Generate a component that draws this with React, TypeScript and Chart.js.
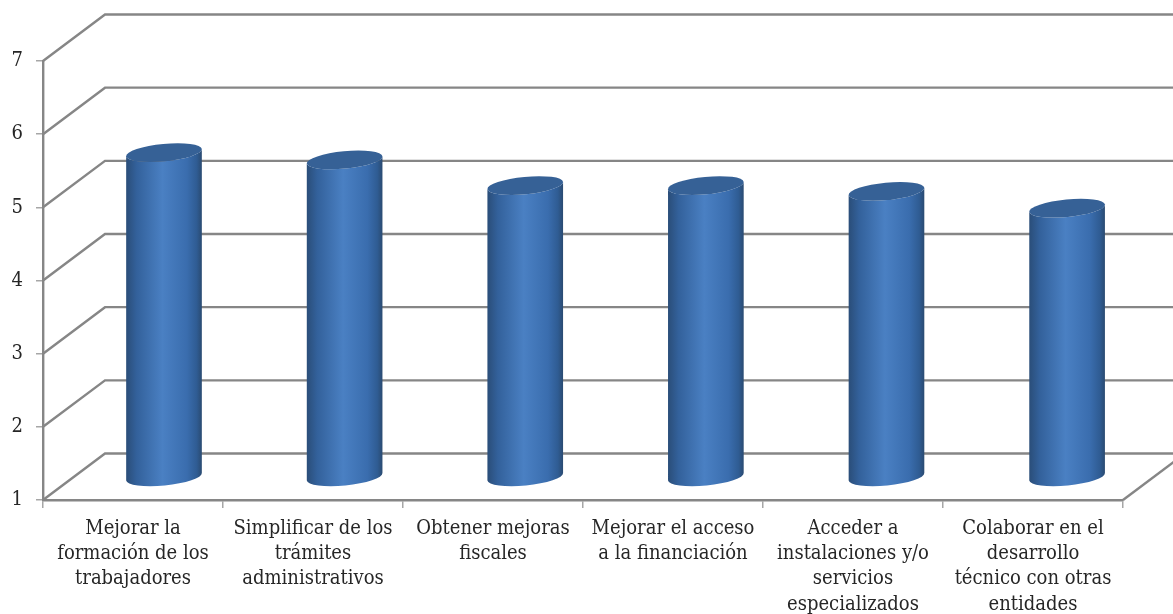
import React, { useEffect, useRef } from "react";
import { Chart, registerables } from "chart.js";

Chart.register(...registerables);

const categories: string[][] = [
  ["Mejorar la", "formación de los", "trabajadores"],
  ["Simplificar de los", "trámites", "administrativos"],
  ["Obtener mejoras", "fiscales"],
  ["Mejorar el acceso", "a la financiación"],
  ["Acceder a", "instalaciones y/o", "servicios", "especializados"],
  ["Colaborar en el", "desarrollo", "técnico con otras", "entidades"],
];
const values: number[] = [5.43, 5.33, 4.98, 4.98, 4.9, 4.67];
const yMin = 1;
const yMax = 7;

const FONT = '"DejaVu Serif Condensed", "DejaVu Serif", serif';
const GRID = "#868686";
const DEPTH_X = 62;
const DEPTH_Y = 46.5;
const TILT = (-5.5 * Math.PI) / 180;
const RY = 8.7;
const PERSPECTIVE = 0.62;

const walls = {
  id: "walls",
  beforeDatasetsDraw(chart: any) {
    const { ctx, scales, width } = chart;
    const y = scales.y;
    const area = chart.chartArea;
    ctx.save();
    ctx.strokeStyle = GRID;
    ctx.lineWidth = 2.4;
    for (const t of y.ticks) {
      const py = y.getPixelForValue(t.value);
      ctx.beginPath();
      ctx.moveTo(area.left, py);
      ctx.lineTo(area.left + DEPTH_X, py - DEPTH_Y);
      ctx.lineTo(width + 5, py - DEPTH_Y);
      ctx.stroke();
    }
    ctx.beginPath();
    ctx.moveTo(area.right, area.bottom);
    ctx.lineTo(area.right + DEPTH_X, area.bottom - DEPTH_Y);
    ctx.stroke();
    ctx.restore();
  },
};

const cylinders = {
  id: "cylinders",
  afterDatasetsDraw(chart: any) {
    const { ctx } = chart;
    const meta = chart.getDatasetMeta(0);
    const y = chart.scales.y;
    meta.data.forEach((bar: any, i: number) => {
      const cx = bar.x + DEPTH_X / 2 + i * PERSPECTIVE;
      const rx = bar.width / 2;
      const top = bar.y - DEPTH_Y / 2;
      const base = y.getPixelForValue(yMin) - DEPTH_Y / 2;
      const g = ctx.createLinearGradient(cx - rx, 0, cx + rx, 0);
      g.addColorStop(0, "#2a4d78");
      g.addColorStop(0.14, "#33619b");
      g.addColorStop(0.48, "#4a80c3");
      g.addColorStop(0.8, "#3a6dae");
      g.addColorStop(0.93, "#2f5c93");
      g.addColorStop(1, "#2a4a70");
      ctx.save();
      ctx.beginPath();
      ctx.ellipse(cx, base, rx, RY, TILT, 0, Math.PI);
      ctx.ellipse(cx, top, rx, RY, TILT, Math.PI, 0, true);
      ctx.closePath();
      ctx.fillStyle = g;
      ctx.fill();
      ctx.beginPath();
      ctx.ellipse(cx, top, rx, RY, TILT, 0, Math.PI * 2);
      ctx.fillStyle = "#366196";
      ctx.fill();
      ctx.restore();
    });
  },
};

export default function App() {
  const ref = useRef<HTMLCanvasElement | null>(null);
  useEffect(() => {
    const chart = new Chart(ref.current as HTMLCanvasElement, {
      type: "bar",
      data: {
        labels: categories,
        datasets: [
          {
            data: values,
            backgroundColor: "rgba(0,0,0,0)",
            borderWidth: 0,
            barPercentage: 76 / 180,
            categoryPercentage: 1,
          },
        ],
      },
      options: {
        animation: false,
        responsive: false,
        layout: { padding: { top: 61, right: 50, left: 0, bottom: 0 } },
        plugins: { legend: { display: false }, tooltip: { enabled: false } },
        scales: {
          x: {
            afterFit: (s: any) => {
              s.height = 114;
            },
            grid: { drawOnChartArea: false, tickLength: 8, color: "#a6a6a6", lineWidth: 1.5 },
            border: { color: GRID, width: 2.4 },
            ticks: {
              maxRotation: 0,
              autoSkip: false,
              padding: 8,
              color: "#262626",
              font: { family: FONT, size: 20, lineHeight: 25.3 / 20 },
            },
          },
          y: {
            min: yMin,
            max: yMax,
            afterFit: (s: any) => {
              s.width = 43;
            },
            grid: { drawOnChartArea: false, tickLength: 7, color: "#a6a6a6", lineWidth: 1.5 },
            border: { color: GRID, width: 2.4 },
            ticks: {
              stepSize: 1,
              padding: 13,
              color: "#262626",
              font: { family: FONT, size: 20 },
            },
          },
        },
      },
      plugins: [walls, cylinders],
    } as any);
    return () => chart.destroy();
  }, []);
  return (
    <div style={{ position: "absolute", left: 0, top: 0, width: 1173, height: 614, background: "#fff" }}>
      <canvas ref={ref} width={1173} height={614} style={{ display: "block" }} />
    </div>
  );
}
